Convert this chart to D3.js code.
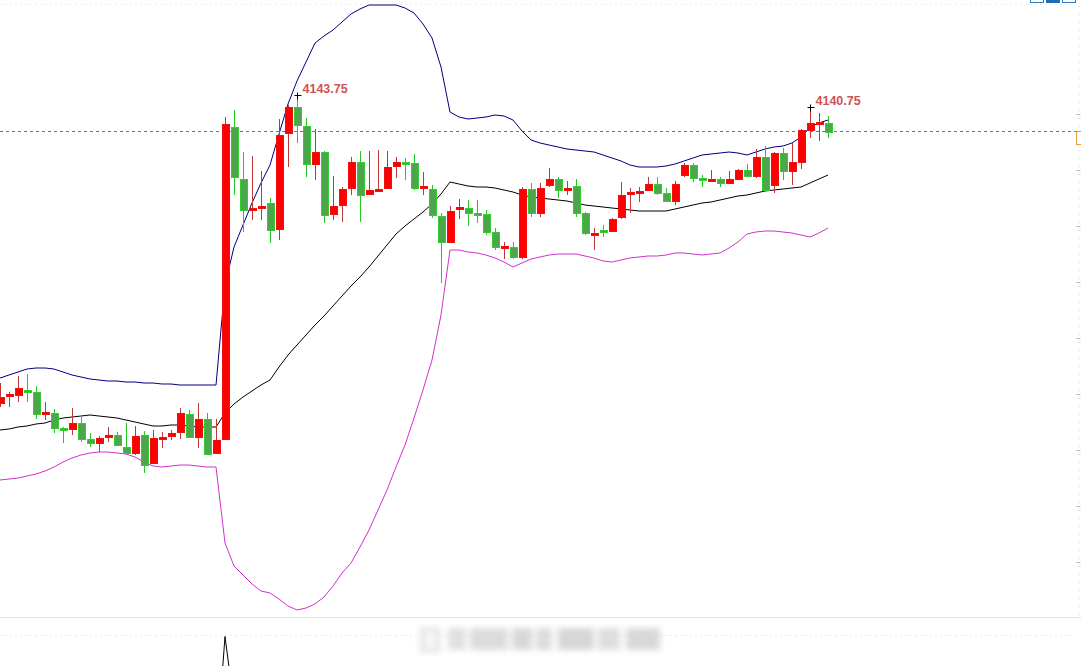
<!DOCTYPE html>
<html lang="en">
<head>
<meta charset="UTF-8">
<title>candles</title>
<script src="https://d3js.org/d3.v7.min.js"></script>
<style>
  html, body { margin: 0; padding: 0; background: #fff; overflow: hidden; }
  svg { display: block; }
</style>
</head>
<body>
<div class="canvas"></div>
<script>
// candle data, one per bar (index = bar number)
const opens = [4066.75,4068.75,4068.75,4070,4069.5,4064.25,4064.25,4060.5,4060.25,4061.75,
  4057.75,4056.75,4058.25,4058.75,4055.75,4054.25,4058.75,4051.75,4058,4058.5,
  4059.5,4064,4058.25,4062.75,4054.25,4057.75,4135.75,4122.75,4115.25,4115.5,
  4116.75,4110.25,4134.25,4140.75,4136,4126.5,4129.5,4114,4116.25,4120.5,
  4127,4119,4120,4120.5,4126,4127,4126.75,4120.5,4120.25,4113.5,
  4107,4115.25,4115.5,4114.25,4114,4109.5,4105.5,4105.75,4103.25,4120.25,
  4114.25,4121.25,4122.75,4120,4121,4114.25,4108.75,4110,4109.75,4113.25,
  4119,4119.25,4120,4121.5,4119.25,4117.25,4123.75,4126.25,4123,4122.25,
  4122.75,4121.75,4122.75,4125,4123.5,4128.25,4121.25,4129.25,4124.75,4127,
  4135,4136.5,4136.75];
const highs = [4071.75,4069.5,4073.5,4074,4071,4067,4065.25,4060.75,4065.5,4063.25,
  4059.25,4058.5,4060.75,4059.5,4061.75,4061,4059.75,4060,4059.5,4060,
  4065.5,4065,4066.75,4064.25,4062.75,4138.25,4140,4129.5,4128.5,4124.75,
  4118,4137.75,4141.25,4143.75,4138,4135.25,4129.75,4123.5,4120.75,4128.25,
  4129.75,4129.75,4130,4129.75,4128.25,4128,4129,4124.5,4121.25,4114.25,
  4116,4117.75,4117.5,4117.5,4115,4110.5,4107,4107,4120.75,4121.75,
  4121.75,4125.5,4123.25,4122.25,4122.75,4114.5,4110.5,4111.25,4113,4122,
  4120.5,4120.75,4123.25,4123.25,4120.5,4122.25,4126.75,4126.75,4123.75,4125,
  4123.25,4124.75,4125.25,4126.5,4130.25,4131,4129.5,4130.5,4131.75,4135.25,
  4140.75,4139.25,4138.5];
const lows = [4065.75,4065.75,4067,4067,4062.75,4062.5,4059.25,4056.75,4058.75,4057,
  4055.75,4054.5,4057,4056,4054,4053.75,4049.25,4051.75,4055.5,4057.5,
  4057.75,4058,4055.5,4053.75,4054.25,4057.5,4118.75,4109.5,4112.5,4112.5,
  4106.75,4107.5,4125.75,4131.75,4123.25,4122.5,4111.75,4112.5,4112,4118.75,
  4112,4118.75,4120,4120.25,4123,4122.5,4120,4118.75,4113,4096.75,
  4106.75,4112.75,4111,4111.75,4108.75,4105,4102.75,4102.75,4102.75,4113.25,
  4113.25,4120.75,4118,4118.75,4113.25,4108.75,4105,4108.25,4109.5,4112.75,
  4114.25,4117,4119.75,4118.75,4117,4116.25,4123.25,4122,4120.75,4122,
  4120.75,4121.5,4122.5,4123.25,4123,4120,4119.25,4122.5,4121.25,4125.25,
  4133,4132.25,4133];
const closes = [4068.25,4069,4070.5,4069.75,4064,4064.5,4060.5,4060.25,4061.75,4057.75,
  4056.75,4058,4058.75,4056.25,4054.25,4058.5,4051.25,4058,4058.25,4059.25,
  4064.25,4058.25,4062.75,4054,4057.5,4136.5,4123.25,4115,4115.5,4116,
  4110,4133.75,4140.75,4136.25,4126.5,4129.5,4113.75,4116,4120.25,4127,
  4118.75,4120,4120.25,4125.75,4127,4126.75,4120.5,4121,4113.75,4107,
  4114.75,4115.75,4114.25,4114,4109.5,4105.75,4106,4103.25,4120.25,4114.25,
  4120.5,4122.75,4120,4120.5,4114.25,4109.25,4109.25,4109.5,4112.75,4118.75,
  4119.5,4119.75,4121.5,4119.25,4117.25,4121.5,4126.25,4123,4122.5,4122.75,
  4121.75,4122.75,4125,4123.5,4128.25,4120,4129.25,4124.75,4127,4135,
  4136.75,4137,4134.5];

// bollinger bands
const upperBand = [4073,4073.75,4074.5,4075.25,4075.5,4075.5,4075.25,4074.5,4073.75,4073.25,
  4072.75,4072.5,4072.25,4072.25,4072,4072,4071.75,4071.75,4071.5,4071.5,
  4071.25,4071.25,4071.25,4071.25,4071.25,4096.25,4105.75,4111.25,4116.75,4121.75,
  4126.25,4134,4141.5,4147.25,4152,4156.75,4158.5,4160,4162,4164,
  4165.25,4166.25,4166.25,4166.25,4166.25,4165.5,4164.25,4161.5,4158,4150.75,
  4139.5,4138.25,4137.75,4138,4138.25,4138.75,4138.5,4137.5,4134.75,4132.5,
  4131.75,4131.25,4130.75,4130.25,4130,4129.75,4129.5,4128.75,4128,4127.25,
  4126.25,4125.75,4125.75,4125.75,4126,4126.5,4127.25,4128,4128.75,4129,
  4129.25,4129.5,4129.25,4128.75,4129.5,4130.25,4130.75,4131,4131.75,4133.25,
  4135.75,4136.75,4137.5];
const midBand = [4060,4060.25,4060.75,4061,4061.5,4061.75,4062.5,4063,4063.25,4063.5,
  4063.75,4063.5,4063.25,4063,4062.5,4062,4061.5,4061,4061,4061.25,
  4061.25,4061,4060.75,4060.75,4060.75,4064.25,4066.5,4068.25,4069.75,4071.25,
  4072.5,4075.75,4078.75,4081.25,4083.75,4086.25,4088.5,4091,4093.5,4096,
  4098.25,4100.75,4103.5,4106.25,4109,4111,4112.75,4114.5,4116.5,4119,
  4122,4121.5,4121,4120.75,4120.75,4120.5,4120,4119.5,4118.75,4118.25,
  4118,4117.75,4117.5,4117.25,4116.75,4116.25,4116,4115.75,4115.5,4115.25,
  4115,4114.75,4114.75,4114.75,4114.75,4115.25,4115.75,4116.25,4116.75,4117,
  4117.5,4118,4118.5,4118.75,4119.25,4119.75,4120,4120.25,4120.5,4120.75,
  4121.75,4122.75,4123.75];
const lowerBand = [4047.5,4047.75,4048,4048.5,4049,4049.75,4050.75,4052,4053,4053.75,
  4054.25,4054.5,4054.5,4054.25,4054,4053.25,4052,4051,4050.75,4051,
  4051.25,4051.25,4051,4050.75,4050.75,4031.75,4026,4023.75,4021.5,4019.75,
  4019.25,4017.75,4016,4015,4015.5,4016.5,4018.25,4021,4024.25,4026.75,
  4030.75,4035,4040,4045,4050.75,4056.25,4063,4070,4077.5,4088.75,
  4105,4105,4104.5,4104.25,4103.75,4103,4102,4100.75,4101.75,4102.75,
  4103.25,4103.75,4104,4104,4104,4103.5,4103,4102.25,4102,4102.5,
  4103,4103.25,4103.5,4103.5,4103.75,4104.25,4104.25,4104,4103.75,4104,
  4104.25,4105.5,4107,4109,4109.5,4109.75,4109.75,4109.5,4109.25,4108.75,
  4108.25,4109.25,4110.5];

// marked highs
const markIdx = [33, 90];
const markPrice = [4143.75, 4140.75];
const lastPrice = 4134.75;

// right axis ticks (labels fall outside the window)
const axisTicks = [4139, 4125, 4111, 4097, 4083, 4069, 4055, 4041, 4027];

// lower pane indicator, only the visible spike
const subIdx = [24, 25, 26];
const subVals = [0.2, 9.5, 4.2];

const width = 1081;
const height = 666;
const paneBottom = 617;

const svg = d3.select('.canvas')
  .append('svg')
  .attr('width', width)
  .attr('height', height);

svg.append('rect').attr('width', width).attr('height', height).attr('fill', '#fff');

const x = d3.scaleLinear().domain([0, 92]).range([0, 828]);
const y = d3.scaleLinear().domain([4167.5, 4001]).range([0, 666]);
const ySub = d3.scaleLinear().domain([0, 10]).range([760, 630]);

// faint grid bits
svg.append('line')
  .attr('x1', 0).attr('x2', 1076).attr('y1', 4.5).attr('y2', 4.5)
  .attr('stroke', '#eeeeee').attr('stroke-dasharray', '2,3');
svg.append('line')
  .attr('x1', 0).attr('x2', width).attr('y1', paneBottom + 0.5).attr('y2', paneBottom + 0.5)
  .attr('stroke', '#e2e2e2');
svg.append('line')
  .attr('x1', 0).attr('x2', 1076).attr('y1', 635.5).attr('y2', 635.5)
  .attr('stroke', '#ececec').attr('stroke-dasharray', '2,3');

// right axis ticks
const yAxis = d3.axisRight(y).tickValues(axisTicks).tickSize(4).tickFormat('');
const axisG = svg.append('g').attr('transform', 'translate(1076.5,0)').call(yAxis);
axisG.select('.domain').remove();
axisG.selectAll('line').attr('stroke', '#bbb');
const minorAxis = d3.axisRight(y).ticks(60).tickSize(2).tickFormat('');
const minorG = svg.append('g').attr('transform', 'translate(1078.5,0)').call(minorAxis);
minorG.select('.domain').remove();
minorG.selectAll('line').attr('stroke', '#ddd');
minorG.selectAll('.tick').filter(d => y(d) > paneBottom).remove();

// last price dashed line
svg.append('line')
  .attr('x1', 0).attr('x2', 1076)
  .attr('y1', Math.round(y(lastPrice)) + 0.5).attr('y2', Math.round(y(lastPrice)) + 0.5)
  .attr('stroke', '#2f86c4').attr('stroke-dasharray', '3,3');
svg.append('rect')
  .attr('x', 1076.5).attr('y', Math.round(y(lastPrice)) + 0.5)
  .attr('width', 12).attr('height', 13)
  .attr('fill', '#fff').attr('stroke', '#e89a3c');

// bands
const line = d3.line().x((d, i) => x(i)).y(d => y(d));
[[upperBand, '#000080'], [midBand, '#000'], [lowerBand, '#d030d0']].forEach(([arr, col]) => {
  svg.append('path')
    .datum(arr)
    .attr('d', line)
    .attr('fill', 'none')
    .attr('stroke', col)
    .attr('stroke-width', 1);
});

// candles
const bars = opens.map((o, i) => ({ i, o, h: highs[i], l: lows[i], c: closes[i], up: closes[i] >= o }));
const cg = svg.append('g');
cg.selectAll('line.wick').data(bars).enter()
  .append('line')
  .attr('class', 'wick')
  .attr('x1', d => Math.round(x(d.i)) + 0.5).attr('x2', d => Math.round(x(d.i)) + 0.5)
  .attr('y1', d => y(d.h)).attr('y2', d => y(d.l))
  .attr('stroke', d => d.up ? '#c03838' : '#22cc22')
  .attr('stroke-width', 1);
cg.selectAll('rect.body').data(bars).enter()
  .append('rect')
  .attr('class', 'body')
  .attr('x', d => Math.round(x(d.i)) - 3)
  .attr('width', 7)
  .attr('y', d => Math.round(y(Math.max(d.o, d.c))))
  .attr('height', d => Math.max(2, Math.round(Math.abs(y(d.o) - y(d.c)))))
  .attr('fill', d => d.up ? '#ff0000' : '#4ca64c')
  .attr('stroke', d => d.up ? '#ee1111' : '#33cc33')
  .attr('stroke-width', 1)
  .attr('shape-rendering', 'crispEdges');

// high markers
markIdx.forEach((idx, k) => {
  const px = Math.round(x(idx)) + 0.5;
  const py = Math.round(y(markPrice[k])) + 0.5;
  svg.append('line').attr('x1', px - 3).attr('x2', px + 4).attr('y1', py).attr('y2', py).attr('stroke', '#000');
  svg.append('line').attr('x1', px).attr('x2', px).attr('y1', py - 3).attr('y2', py + 4).attr('stroke', '#000');
  svg.append('text')
    .attr('x', px + 5)
    .attr('y', py - 3)
    .attr('font-family', 'Liberation Sans, Arial, sans-serif')
    .attr('font-weight', 'bold')
    .attr('font-size', '12.5px')
    .attr('fill', '#d05252')
    .text(markPrice[k].toFixed(2));
});

// lower pane line
svg.append('path')
  .datum(subIdx.map((d, k) => [x(d), ySub(subVals[k])]))
  .attr('d', d3.line())
  .attr('fill', 'none')
  .attr('stroke', '#000')
  .attr('stroke-width', 1);

// blurred watermark at the bottom
const defs = svg.append('defs');
defs.append('filter').attr('id', 'blur')
  .append('feGaussianBlur').attr('stdDeviation', 3);
const wm = svg.append('g').attr('filter', 'url(#blur)');
wm.append('rect').attr('x', 420).attr('y', 627).attr('width', 20).attr('height', 26).attr('fill', '#e4e4e4');
wm.append('rect').attr('x', 426).attr('y', 631).attr('width', 9).attr('height', 18).attr('fill', '#fafafa');
[[448, 18, '#e0e0e0'], [470, 38, '#dcdcdc'], [512, 20, '#d8d8d8'], [536, 16, '#dcdcdc'],
 [558, 36, '#d6d6d6'], [598, 22, '#dedede'], [626, 34, '#d8d8d8']].forEach(([bx, bw, col]) => {
  wm.append('rect').attr('x', bx).attr('y', 628).attr('width', bw).attr('height', 22).attr('fill', col);
});

// top right buttons
svg.append('rect').attr('x', 1030.5).attr('y', -3.5).attr('width', 13).attr('height', 6).attr('fill', '#fff').attr('stroke', '#2b7bbf');
svg.append('rect').attr('x', 1046.5).attr('y', -3.5).attr('width', 13).attr('height', 6).attr('fill', '#1f6fb5').attr('stroke', '#1f6fb5');
svg.append('rect').attr('x', 1062.5).attr('y', -3.5).attr('width', 13).attr('height', 6).attr('fill', '#fff').attr('stroke', '#2b7bbf');
</script>
</body>
</html>
